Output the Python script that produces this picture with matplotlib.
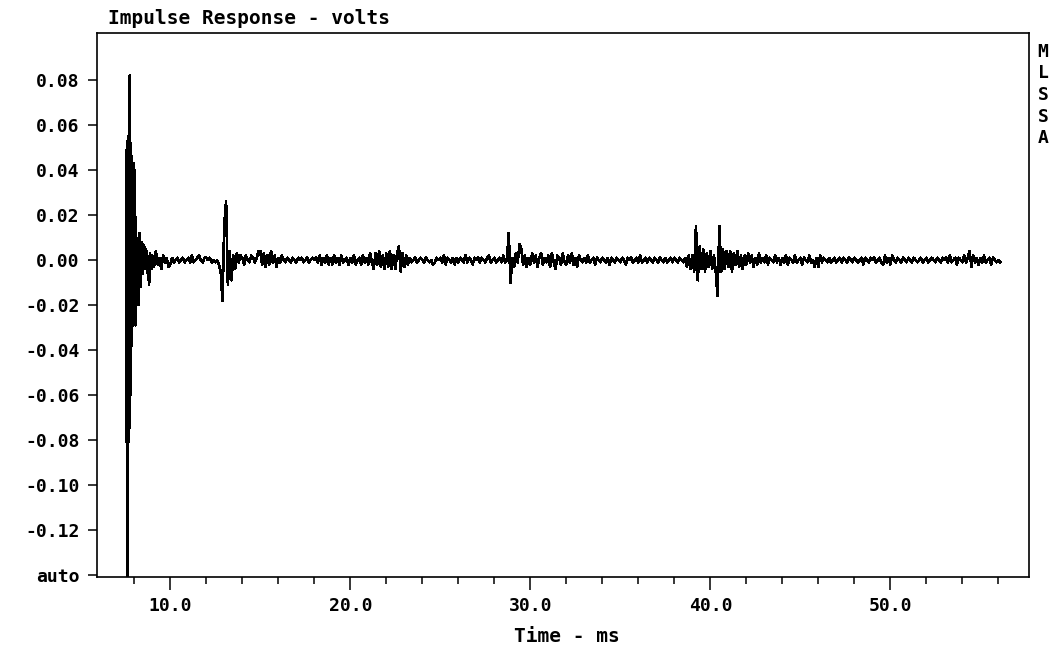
import matplotlib
matplotlib.use("Agg")
import matplotlib.pyplot as plt
import numpy as np
from matplotlib.ticker import FixedLocator, FuncFormatter

# first 1.45 ms of the impulse, 25 us per sample, millivolts
onset_start_ms = 7.55
onset_step_ms = 0.025
onset_mv = [
  49, -81, 53, -145, 55, -81, 54, -75, 82, -60,
  52, -38, 46, -38, 30, -10, 43, -29, 40, -20,
  20, -29, 10, -20, 9, -15, 8, -20, 10, -8,
  12, -6, 5, -12, 8, -4, 6, -6, 7, -3,
  6, -4, 3, 5, -2, 4, -4, 2, -6, 1,
  -8, -11, -2, 3, -3, 1, -4, 2,
]

# remainder of the record, 0.1 ms per sample, millivolts (one row per ms)
tail_start_ms = 9.0
tail_step_ms = 0.1
tail_mv = [
  2, -3, 4, -2, 1, -4, 2, -1, 1, -3,      # 9
  -2, 1, -1, 0, 1, -1, 0, 1, -1, 0,       # 10
  1, -1, 2, -1, 0, 1, 2, 0, -1, 1,        # 11
  1, 0, 1, -1, 0, -1, 0, -2, -5, -18,     # 12
  16, 26, -11, 4, -9, 2, -4, 3, -1, 2,    # 13
  1, -2, 2, 0, -1, 2, 1, -1, 1, 4,        # 14
  4, -2, 3, -3, 2, -2, 4, -1, 2, -3,      # 15
  1, -1, 2, 0, -1, 1, 0, -1, 1, 0,        # 16
  -1, 1, 0, 1, -1, 0, 1, -1, 0, 1,        # 17
  0, 1, -1, 2, -2, 1, -1, 2, -2, 1,       # 18
  -2, 2, -1, 1, -2, 2, -1, 0, 1, -2,      # 19
  1, -1, 2, -2, 0, 1, -2, 2, -1, 1,       # 20
  -2, 3, -1, -4, 3, -2, 4, -3, 2, -4,     # 21
  3, -3, 4, -4, 2, -4, 3, 6, -5, 3,       # 22
  -3, 2, -2, 1, -1, 0, 1, -1, 0, 1,       # 23
  0, -1, 1, 0, -1, 0, -2, -1, 1, 0,       # 24
  1, -1, 2, -2, 1, 0, -1, 1, -2, 1,       # 25
  -1, 1, 0, -1, 2, -1, 1, 0, -2, 1,       # 26
  0, 1, -1, 1, 0, -1, 1, 2, -1, 0,        # 27
  1, -1, 0, 1, -1, 2, -1, 0, 12, -10,     # 28
  1, -3, 3, -1, 7, 5, -2, 2, -3, 1,       # 29
  -2, 3, -1, 2, -3, 1, 3, -2, 1, -1,      # 30
  2, -3, 3, -1, -4, 2, 1, -2, 3, -1,      # 31
  -2, 2, -1, 3, -2, 1, -3, 2, 0, -1,      # 32
  1, -1, 2, -1, 0, 1, -2, 1, 0, -1,       # 33
  1, 0, -1, 1, -2, 1, 0, -1, 1, 0,        # 34
  -1, 1, 0, -2, 1, 0, 1, -1, 0, 1,        # 35
  -1, 2, -1, 0, 1, -1, 1, 0, -1, 1,       # 36
  0, -1, 1, 0, -1, 1, -1, 0, 1, -1,       # 37
  1, 0, -1, 1, 0, -1, 1, -3, 2, -4,       # 38
  2, -5, 15, -9, 6, -4, 5, -5, 3, -3,     # 39
  4, -4, 2, -5, -16, 15, -5, 5, -4, 4,    # 40
  -3, 4, -5, 3, -2, 4, -3, 2, -4, 2,      # 41
  -2, 3, -1, 2, -3, 1, -2, 3, -1, 1,      # 42
  -1, 2, -2, 1, 0, -1, 2, -1, 1, -2,      # 43
  1, -1, 2, -2, 1, 0, -1, 2, -1, 0,       # 44
  1, -2, 1, 0, -1, 2, -1, 0, -3, 1,       # 45
  -3, 2, -1, 1, 0, -1, 1, -1, 0, 1,       # 46
  -1, 0, 1, -1, 1, 0, -1, 1, 0, -1,       # 47
  1, 0, -1, 0, 1, -2, 1, 0, -1, 1,        # 48
  0, 1, -1, 0, 1, -1, -2, 2, -1, 1,       # 49
  -2, 2, 0, -1, 1, 0, -1, 1, 0, -1,       # 50
  1, 0, -1, 1, 0, -1, 0, 1, -1, 0,        # 51
  1, -1, 0, 1, 0, -1, 1, 0, -1, 1,        # 52
  0, 1, -1, 2, -1, 0, 1, -2, 1, 0,        # 53
  -1, 2, -1, 1, 4, -3, 2, -1, 1, -2,      # 54
  1, -1, 2, -1, 0, 1, -2, 1, 0, -1,       # 55
  0, -1,                                  # 56
]

y_ticks = [-0.14, -0.12, -0.10, -0.08, -0.06, -0.04, -0.02, 0.00, 0.02, 0.04, 0.06, 0.08]
x_major = [10, 20, 30, 40, 50]
x_minor = [8, 12, 14, 16, 18, 22, 24, 26, 28, 32, 34, 36, 38, 42, 44, 46, 48, 52, 54, 56]

plt.rcParams["font.family"] = "DejaVu Sans Mono"
plt.rcParams["font.weight"] = "bold"
plt.rcParams["axes.unicode_minus"] = False

t_onset = onset_start_ms + onset_step_ms * np.arange(len(onset_mv))
t_tail = tail_start_ms + tail_step_ms * np.arange(len(tail_mv))
t = np.concatenate([t_onset, t_tail])
v = np.concatenate([onset_mv, tail_mv]) / 1000.0

fig = plt.figure(figsize=(10.56, 6.55), dpi=100)
ax = fig.add_axes([97 / 1056, 1 - 577 / 655, 932 / 1056, 544 / 655])
# crisp, unsmoothed trace like an analyser screen dump
ax.plot(t, v, color="black", lw=1.2, antialiased=False)

ax.set_xlim(5.93, 57.7)
ax.set_ylim(-0.141, 0.101)

for s in ax.spines.values():
  s.set_linewidth(1.2)

ax.yaxis.set_major_locator(FixedLocator(y_ticks))
ax.yaxis.set_major_formatter(FuncFormatter(lambda y, p: "auto" if y < -0.135 else "%.2f" % y))
ax.xaxis.set_major_locator(FixedLocator(x_major))
ax.xaxis.set_minor_locator(FixedLocator(x_minor))
ax.xaxis.set_major_formatter(FuncFormatter(lambda x, p: "%.1f" % x))

ax.tick_params(axis="y", direction="out", length=6.5, width=1.1, pad=6, labelsize=13)
ax.tick_params(axis="x", which="major", direction="out", length=9.5, width=1.1, pad=5, labelsize=13)
ax.tick_params(axis="x", which="minor", direction="out", length=5, width=1.1)

fig.text(108 / 1056, 1 - 18 / 655, "Impulse Response - volts", fontsize=14, ha="left", va="center")
fig.text(567 / 1056, 1 - 637 / 655, "Time - ms", fontsize=14, ha="center", va="center")
fig.text(1043 / 1056, 1 - 95 / 655, "M\nL\nS\nS\nA", fontsize=13, ha="center", va="center",
         linespacing=1.25)

fig.savefig("out.png", dpi=100)
